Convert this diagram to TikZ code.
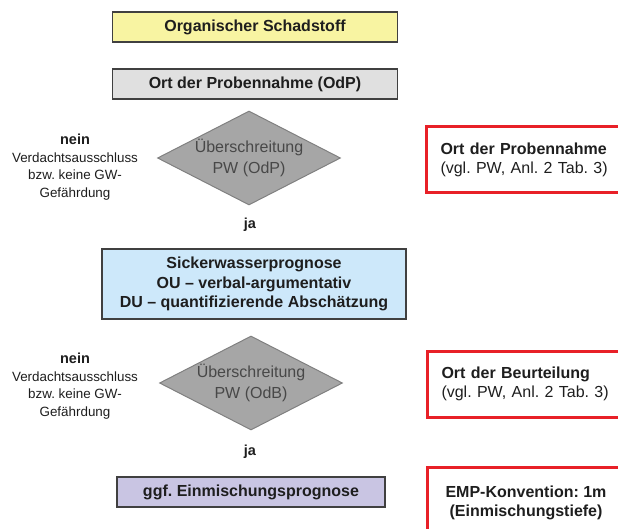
\documentclass[tikz,border=0pt]{standalone}
\usepackage{fontspec}
\setmainfont{Liberation Sans}
\usetikzlibrary{shapes.geometric}
\definecolor{schadgelb}{RGB}{248,244,162}
\definecolor{probengrau}{RGB}{224,224,224}
\definecolor{sickerblau}{RGB}{205,232,250}
\definecolor{mischlila}{RGB}{201,197,227}
\definecolor{rautengrau}{RGB}{166,166,166}
\definecolor{rautenrand}{RGB}{128,128,128}
\definecolor{rautentext}{RGB}{72,72,72}
\definecolor{boxrand}{RGB}{64,64,64}
\definecolor{schrift}{RGB}{30,30,30}
\definecolor{hinweisrot}{RGB}{232,32,40}
\frenchspacing

\begin{document}
\begin{tikzpicture}[x=1pt,y=-1pt,
    box/.style={draw=boxrand, line width=1.2pt, inner sep=0pt, text=schrift,
        font=\fontsize{16}{20}\selectfont\bfseries},
    raute/.style={diamond, draw=rautenrand, fill=rautengrau, line width=1pt,
        inner sep=0pt, aspect=1.96, minimum width=183pt, minimum height=94pt,
        align=center, text=rautentext, font=\fontsize{16}{21}\selectfont},
    hinweis/.style={draw=hinweisrot, line width=3pt, minimum width=197pt,
        inner sep=0pt, anchor=north west, text=schrift,
        font=\fontsize{16}{18.5}\selectfont},
    seite/.style={align=center, text=schrift, font=\fontsize{13.4}{17.5}\selectfont},
    janein/.style={text=schrift, font=\fontsize{14.5}{17}\selectfont\bfseries}]
    \useasboundingbox (0,0) rectangle (618,529);

    \node[box, fill=schadgelb, minimum width=285pt, minimum height=30pt] (schadstoff) at (255,27) {Organischer Schadstoff};
    \node[box, fill=probengrau, minimum width=285pt, minimum height=30pt] (odp) at (255,84) {Ort der Probennahme (OdP)};

    % erste Pruefung am OdP
    \node[raute] (pwodp) at (249,158) {Überschreitung\\PW (OdP)};
    \node[seite] (nein1) at (75,167) {{\fontsize{14.5}{17.5}\selectfont\bfseries nein}\\Verdachtsausschluss\\bzw. keine GW-\\Gefährdung};
    \node[janein] (ja1) at (250,225) {ja};
    \node[hinweis, align=left, text width=169pt, minimum height=66pt] (rb1) at (425,125.5) {\textbf{Ort der Probennahme}\\(vgl. PW, Anl. 2 Tab. 3)};

    \node[box, fill=sickerblau, minimum width=304pt, minimum height=70pt, align=center,
        font=\fontsize{16}{19.5}\selectfont\bfseries] (swp) at (254,284)
        {Sickerwasserprognose\\OU -- verbal-argumentativ\\DU -- quantifizierende Abschätzung};

    % zweite Pruefung am OdB
    \node[raute] (pwodb) at (251,383) {Überschreitung\\PW (OdB)};
    \node[seite] (nein2) at (75,386) {{\fontsize{14.5}{17.5}\selectfont\bfseries nein}\\Verdachtsausschluss\\bzw. keine GW-\\Gefährdung};
    \node[janein] (ja2) at (250,452) {ja};
    \node[hinweis, align=left, text width=169pt, minimum height=66pt] (rb2) at (426,349.5) {\textbf{Ort der Beurteilung}\\(vgl. PW, Anl. 2 Tab. 3)};

    \node[box, fill=mischlila, minimum width=268pt, minimum height=30pt] (emp) at (251,492) {ggf. Einmischungsprognose};
    \node[hinweis, align=center, minimum height=72pt, font=\fontsize{16}{18.5}\selectfont\bfseries] (rb3) at (426,465.5) {EMP-Konvention: 1m\\(Einmischungstiefe)};
\end{tikzpicture}
\end{document}
